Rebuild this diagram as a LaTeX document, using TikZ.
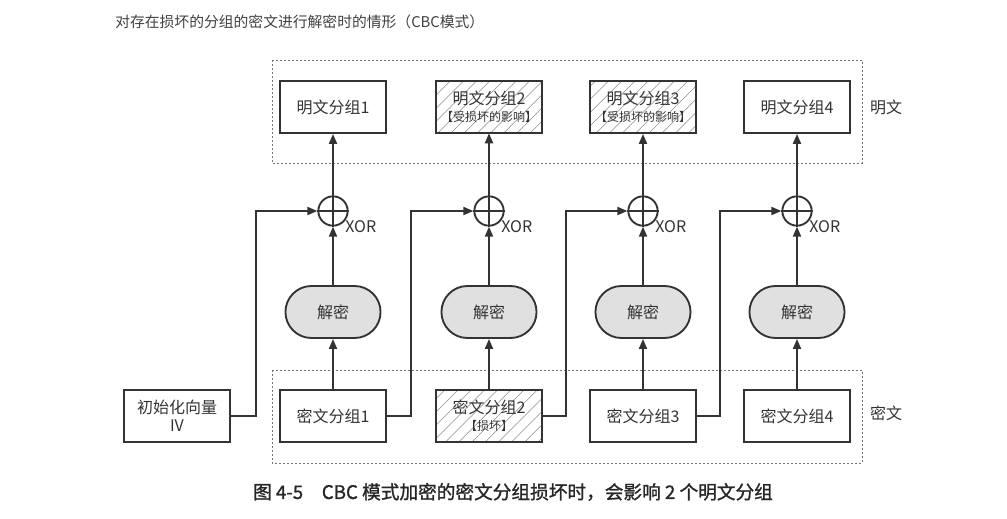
\documentclass[tikz,border=0pt]{standalone}
\usepackage{fontspec}
\setmainfont{Noto Sans CJK SC}
\newfontfamily\capfont{Noto Sans CJK SC}[FakeBold=1.2]
\usetikzlibrary{arrows.meta,patterns.meta,shapes.misc}
\begin{document}
\begin{tikzpicture}[x=0.75pt,y=-0.75pt,
  box/.style={draw=black!80, line width=1.4pt, minimum width=79pt, minimum height=39pt,
    inner sep=0pt, align=center, font=\fontsize{12}{13.5}\selectfont, text=black!80},
  hatched/.style={box, pattern={Lines[angle=45,distance=7pt,line width=0.4pt]}, pattern color=black!45},
  pill/.style={draw=black!80, line width=1.4pt, rounded rectangle, minimum width=78pt, minimum height=39pt,
    fill=black!12, font=\fontsize{12}{14}\selectfont, text=black!80},
  xor/.style={draw=black!80, line width=1.4pt, circle, minimum size=22pt, inner sep=0pt},
  arr/.style={draw=black!80, line width=1.4pt, -{Triangle[length=7.5pt,width=6pt]}},
  ln/.style={draw=black!80, line width=1.2pt},
  dbox/.style={draw=black!55, line width=0.5pt, dash pattern=on 1.5pt off 1.5pt},
  lab/.style={font=\fontsize{12}{14}\selectfont, text=black!80}
]
\useasboundingbox (0,0) rectangle (1007,518);

% title
\node[anchor=west, font=\fontsize{11.1}{13}\selectfont, text=black!75, inner sep=0pt] (title) at (115,22) {对存在损坏的分组的密文进行解密时的情形（CBC模式）};

% dashed group boxes
\draw[dbox] (272,60) rectangle (862,163);
\draw[dbox] (272,370) rectangle (862,463);
\node[lab] (lp) at (886,107) {明文};
\node[lab] (lc) at (886,413) {密文};

% plaintext boxes
\node[box] (p1) at (333,107) {明文分组1};
\node[hatched] (p2) at (489,107) {明文分组2\\[-1pt]{\fontsize{9}{10}\selectfont【受损坏的影响】}};
\node[hatched] (p3) at (643,107) {明文分组3\\[-1pt]{\fontsize{9}{10}\selectfont【受损坏的影响】}};
\node[box] (p4) at (797,107) {明文分组4};

% xor circles
\foreach \i/\x in {1/333,2/489,3/643,4/797}{
  \node[xor] (x\i) at (\x,211) {};
  \draw[ln] (x\i.north) -- (x\i.south) (x\i.west) -- (x\i.east);
  \node[anchor=west, font=\fontsize{12}{14}\selectfont, text=black!80, inner sep=0pt] (xl\i) at (\x+12,227) {XOR};
  \node[pill] (d\i) at (\x,312) {解密};
}

% ciphertext boxes
\node[box] (iv) at (177,416) {初始化向量\\IV};
\node[box] (c1) at (333,416) {密文分组1};
\node[hatched] (c2) at (489,416) {密文分组2\\[-1pt]{\fontsize{9}{10}\selectfont【损坏】}};
\node[box] (c3) at (643,416) {密文分组3};
\node[box] (c4) at (797,416) {密文分组4};

% vertical flow
\foreach \i in {1,2,3,4}{
  \draw[arr] (c\i) -- (d\i);
  \draw[arr] (d\i) -- (x\i);
  \draw[arr] (x\i) -- (p\i);
}

% feedback lines
\coordinate (k1) at (256,211);
\coordinate (k2) at (411,211);
\coordinate (k3) at (566,211);
\coordinate (k4) at (720,211);
\draw[arr] (iv.east) -| (k1) -- (x1.west);
\draw[arr] (c1.east) -| (k2) -- (x2.west);
\draw[arr] (c2.east) -| (k3) -- (x3.west);
\draw[arr] (c3.east) -| (k4) -- (x4.west);

% caption
\node[font=\fontsize{14}{16}\selectfont\capfont, text=black!85, inner sep=0pt] (cap) at (513,492) {图 4-5\quad CBC 模式加密的密文分组损坏时，会影响 2 个明文分组};
\end{tikzpicture}
\end{document}
